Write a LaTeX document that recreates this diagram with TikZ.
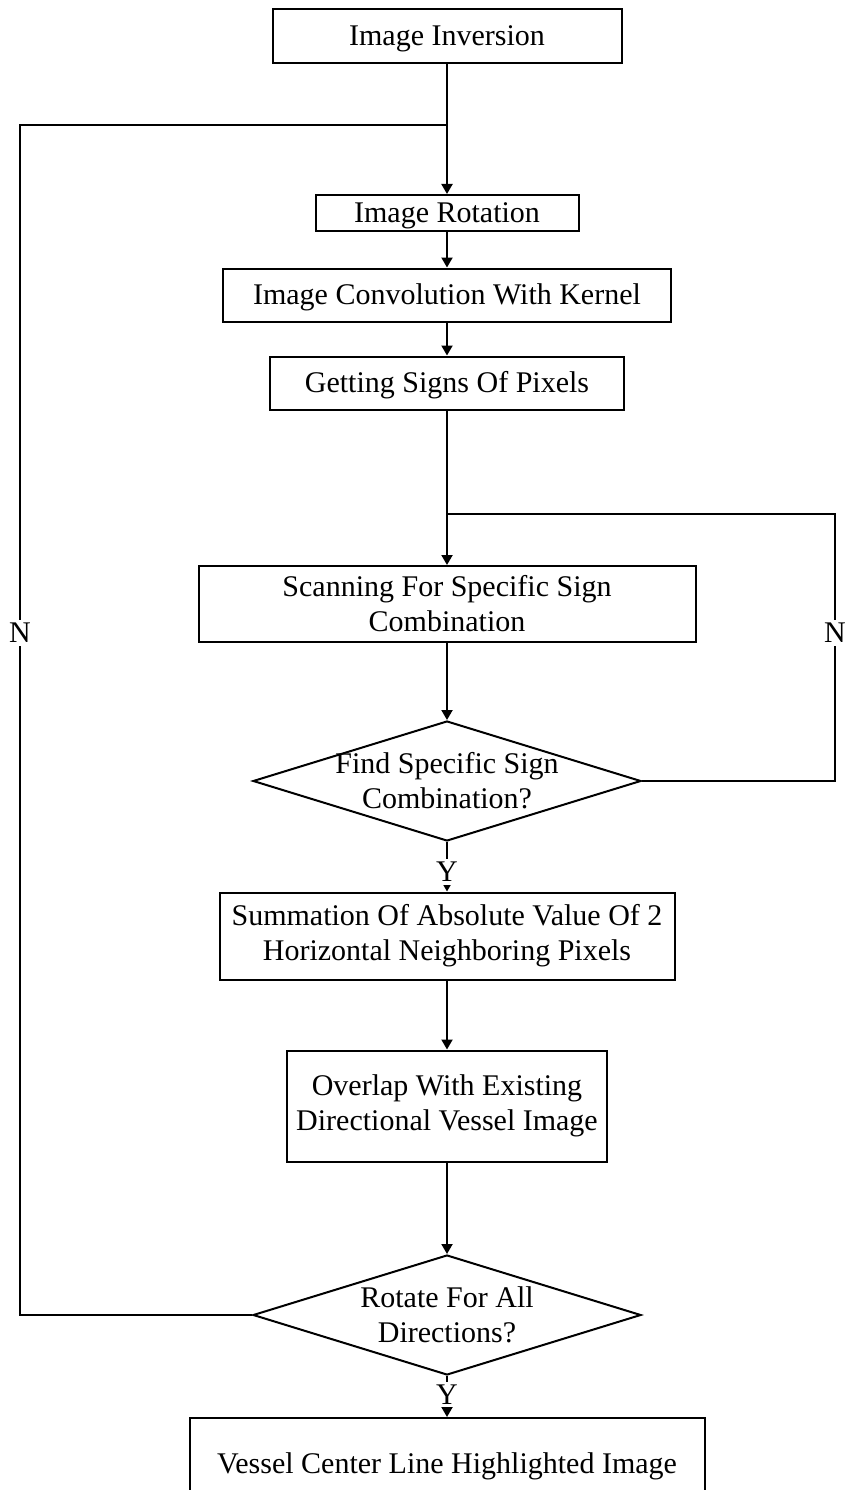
\documentclass[tikz,border=0pt]{standalone}
\usepackage{fontspec}
\setmainfont{Liberation Serif}
\usetikzlibrary{shapes.geometric, arrows.meta}

\begin{document}
\begin{tikzpicture}
      [x=1pt, y=-1pt, line width=2pt,
       every node/.style={font=\fontsize{30}{35}\selectfont},
       block/.style={draw, rectangle, align=center, inner sep=0pt},
       oneline/.style={text height=26pt, text depth=7pt},
       decision/.style={draw, diamond, inner sep=0pt, minimum width=388pt, minimum height=120pt},
       question/.style={align=center, inner sep=0pt},
       tag/.style={fill=white, inner sep=3pt},
       flow/.style={->, >={Triangle[length=10pt, width=11pt]}}]
      \useasboundingbox (0, 0) rectangle (850, 1490);

      \node[block, oneline, minimum width=349pt, minimum height=54pt] (inversion) at (447, 36) {Image Inversion};
      \node[block, oneline, minimum width=263pt, minimum height=36pt] (rotation) at (447, 213) {Image Rotation};
      \node[block, oneline, minimum width=448pt, minimum height=53pt] (convolution) at (447, 295) {Image Convolution With Kernel};
      \node[block, oneline, minimum width=354pt, minimum height=53pt] (signs) at (447, 383) {Getting Signs Of Pixels};
      \node[block, minimum width=497pt, minimum height=76pt] (scanning) at (447, 604) {Scanning For Specific Sign\\Combination};
      \node[decision] (find) at (447, 781) {};
      \node[question] (findtext) at (find) {Find Specific Sign\\Combination?};
      \node[block, minimum width=455pt, minimum height=87pt] (summation) at (447, 936) {Summation Of Absolute Value Of 2\\Horizontal Neighboring Pixels};
      \node[block, minimum width=320pt, minimum height=111pt] (overlap) at (447, 1106) {Overlap With Existing\\Directional Vessel Image};
      \node[decision] (rotate) at (447, 1315) {};
      \node[question] (rotatetext) at (rotate) {Rotate For All\\Directions?};
      \node[block, oneline, minimum width=515pt, minimum height=92pt] (vessel) at (447, 1464) {Vessel Center Line Highlighted Image};

      % main line
      \draw[flow] (inversion) -- (rotation);
      \draw[flow] (rotation) -- (convolution);
      \draw[flow] (convolution) -- (signs);
      \draw[flow] (signs) -- (scanning);
      \draw[flow] (scanning) -- (find);
      \draw[flow] (find) -- (summation) node[tag, pos=0.6] {Y};
      \draw[flow] (summation) -- (overlap);
      \draw[flow] (overlap) -- (rotate);
      \draw[flow] (rotate) -- (vessel) node[tag, pos=0.45] {Y};

      % loops back
      \coordinate (rightturn) at (835, 514);
      \coordinate (scanin) at (447, 514);
      \draw (find.east) -| (rightturn) -- (scanin);
      \coordinate (leftturn) at (20, 125);
      \coordinate (rotin) at (447, 125);
      \draw (rotate.west) -| (leftturn) -- (rotin);
      \node[tag] (nright) at (835, 633) {N};
      \node[tag] (nleft) at (20, 633) {N};
\end{tikzpicture}
\end{document}
